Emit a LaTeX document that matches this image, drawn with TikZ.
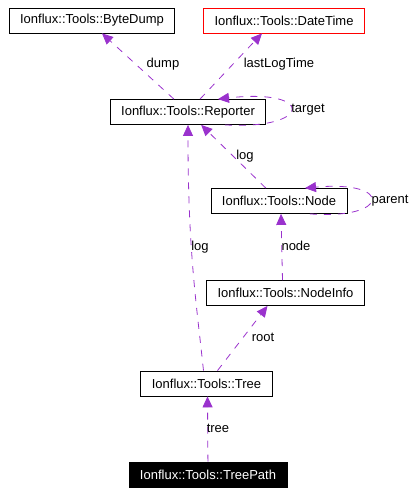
\documentclass[tikz,border=0pt]{standalone}
\usepackage{fontspec}
\setmainfont{Liberation Sans}
\usetikzlibrary{arrows.meta}
\definecolor{edgepurple}{HTML}{9A32CD}
\begin{document}
\begin{tikzpicture}[
        x=1pt,y=-1pt,
        every node/.style={font=\fontsize{13}{15}\selectfont},
        class box/.style={draw=black,line width=0.8pt,fill=white,inner xsep=11pt,inner ysep=0pt,minimum height=25pt},
        main box/.style={class box,fill=black,text=white},
        ext box/.style={class box,draw=red},
        member edge/.style={edgepurple,line width=0.8pt,dash pattern=on 7pt off 7pt,-{Triangle[length=11pt,width=10pt]}},
        edge label/.style={inner sep=1pt}
    ]
        \useasboundingbox (0,0) rectangle (417,493);

        \node[class box] (bytedump) at (92,20.5) {Ionflux::Tools::ByteDump};
        \node[ext box] (datetime) at (284,20.5) {Ionflux::Tools::DateTime};
        \node[class box] (reporter) at (188,112) {Ionflux::Tools::Reporter};
        \node[class box] (node) at (279,201) {Ionflux::Tools::Node};
        \node[class box] (nodeinfo) at (285.5,293) {Ionflux::Tools::NodeInfo};
        \node[class box] (tree) at (206.5,383.5) {Ionflux::Tools::Tree};
        \node[main box] (treepath) at (208,474.5) {Ionflux::Tools::TreePath};

        \draw[member edge] (reporter) -- ([xshift=10pt]bytedump.south);
        \draw[member edge] ([xshift=12pt]reporter.north) -- ([xshift=-22pt]datetime.south);
        \draw[member edge] ([xshift=37pt]reporter.south) .. controls (312,130) and (316,88) .. ([xshift=30pt]reporter.north);
        \draw[member edge] (node) -- (reporter);
        \draw[member edge] ([xshift=31pt]node.south) .. controls (390,220) and (394,180) .. ([xshift=26pt]node.north);
        \draw[member edge] ([xshift=-3pt]nodeinfo.north) -- ([xshift=2pt]node.south);
        \draw[member edge] ([xshift=-3pt]tree.north) .. controls (196,300) and (188,250) .. (reporter.south);
        \draw[member edge] ([xshift=11pt]tree.north) -- ([xshift=-18pt]nodeinfo.south);
        \draw[member edge] (treepath) -- ([xshift=1pt]tree.south);

        \node[edge label] (dumplbl) at (163,64) {dump};
        \node[edge label] (loglbl) at (279,64) {lastLogTime};
        \node[edge label] (targetlbl) at (308,110) {target};
        \node[edge label] (nodeloglbl) at (245,156) {log};
        \node[edge label] (parentlbl) at (390,201) {parent};
        \node[edge label] (nodelbl) at (296,246) {node};
        \node[edge label] (treeloglbl) at (200,247) {log};
        \node[edge label] (rootlbl) at (263,337) {root};
        \node[edge label] (treelbl) at (218,428) {tree};
    \end{tikzpicture}
\end{document}
